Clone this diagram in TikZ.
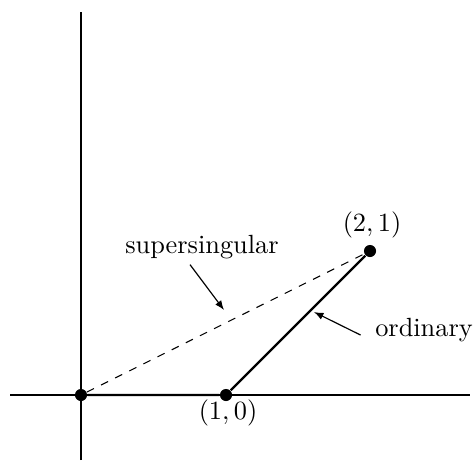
\documentclass[tikz,border=0pt]{standalone}
\usetikzlibrary{arrows.meta}
\begin{document}
\begin{tikzpicture}[x=0.38pt,y=0.38pt,
  axis/.style={line width=0.4pt},
  seg/.style={line width=0.9pt},
  dot/.style={circle,fill=black,inner sep=0pt,minimum size=4.6pt},
  lbl/.style={inner sep=2pt},
  pointer/.style={-{Latex[length=3.6pt,width=2.8pt]},line width=0.45pt}]
\useasboundingbox (0,0) rectangle (473,462);
% axes
\coordinate (xl) at (10,67);
\coordinate (xr) at (470,67);
\coordinate (yb) at (81,2);
\coordinate (yt) at (81,450);
\draw[axis] (xl) -- (xr);
\draw[axis] (yb) -- (yt);
% points
\node[dot] (O) at (81,67) {};
\node[dot] (A) at (226,67) {};
\node[dot] (B) at (370,211) {};
\draw[seg] (O) -- (A) -- (B);
\draw[dashed,line width=0.4pt] (O) -- (B);
% labels
\node[lbl] (lA) at (228,49) {$(1,0)$};
\node[lbl] (lB) at (372,237) {$(2,1)$};
\node[lbl] (ss) at (202,215) {supersingular};
\node[lbl] (ord) at (424,132) {ordinary};
% pointers
\coordinate (ssTip) at (224,152);
\coordinate (ordTip) at (314,150);
\draw[pointer] (ss.south) ++(-12,0) coordinate (ssStart) -- (ssTip);
\draw[pointer] (ord.west) ++(-9,-5) coordinate (ordStart) -- (ordTip);
\end{tikzpicture}
\end{document}
